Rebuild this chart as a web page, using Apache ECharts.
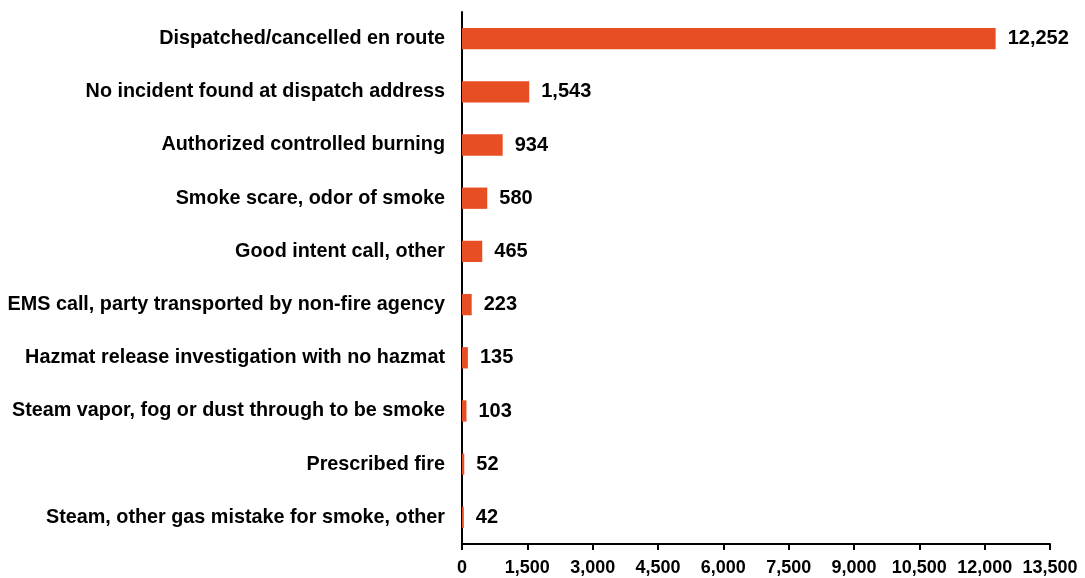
<!DOCTYPE html>
<html><head><meta charset="utf-8">
<script src="https://cdn.jsdelivr.net/npm/echarts@6/dist/echarts.min.js"></script>
<style>html,body{margin:0;padding:0;background:#fff}#c{width:1085px;height:578px}</style>
</head><body><div id="c"></div>
<script>
const categories = [
  "Dispatched/cancelled en route",
  "No incident found at dispatch address",
  "Authorized controlled burning",
  "Smoke scare, odor of smoke",
  "Good intent call, other",
  "EMS call, party transported by non-fire agency",
  "Hazmat release investigation with no hazmat",
  "Steam vapor, fog or dust through to be smoke",
  "Prescribed fire",
  "Steam, other gas mistake for smoke, other"
];
const values = [12252, 1543, 934, 580, 465, 223, 135, 103, 52, 42];

const chart = echarts.init(document.getElementById('c'), null, {renderer: 'canvas'});
const font = 'Liberation Sans, Arial, sans-serif';
chart.setOption({
  animation: false,
  grid: {left: 462, right: 35, top: 12, bottom: 34, containLabel: false},
  xAxis: {
    type: 'value', min: 0, max: 13500, interval: 1500,
    axisLine: {show: true, lineStyle: {color: '#000', width: 2}},
    axisTick: {show: true, length: 6, lineStyle: {color: '#000', width: 2}},
    splitLine: {show: false},
    axisLabel: {color: '#000', fontFamily: font, fontWeight: 'bold', fontSize: 18, margin: 15,
      formatter: v => v.toLocaleString('en-US')}
  },
  yAxis: {
    type: 'category', data: categories, inverse: true,
    axisLine: {show: true, lineStyle: {color: '#000', width: 2}},
    axisTick: {show: false},
    axisLabel: {color: '#000', fontFamily: font, fontWeight: 'bold', fontSize: 19.8, margin: 17}
  },
  series: [{
    type: 'bar', data: values, barCategoryGap: '60%',
    itemStyle: {color: '#E84E24'},
    label: {show: true, position: 'right', distance: 12, color: '#000', fontFamily: font,
      fontWeight: 'bold', fontSize: 20, formatter: p => p.value.toLocaleString('en-US')}
  }]
});
</script></body></html>
